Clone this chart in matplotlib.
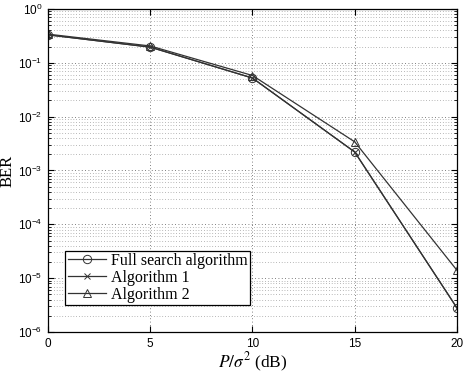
import matplotlib
matplotlib.use("Agg")
import matplotlib.pyplot as plt
from matplotlib.ticker import LogLocator, NullFormatter

plt.rcParams["mathtext.fontset"] = "stix"
plt.rcParams["font.family"] = ["Liberation Sans", "DejaVu Sans"]

# data
snr_db = [0, 5, 10, 15, 20]
ber_full = [0.33, 0.195, 0.052, 0.0022, 2.8e-6]
ber_alg1 = [0.33, 0.195, 0.052, 0.0022, 2.8e-6]
ber_alg2 = [0.34, 0.205, 0.058, 0.0034, 1.4e-5]

fig = plt.figure(figsize=(4.63, 3.71), dpi=100)
ax = fig.add_axes([0.1037, 0.105, 0.8833, 0.871])

ax.semilogy(snr_db, ber_full, color="#333333", lw=0.9, marker="o", ms=6,
            mfc="none", mec="#333333", mew=0.7, label="Full search algorithm")
ax.semilogy(snr_db, ber_alg1, color="#333333", lw=0.9, marker="x", ms=5,
            mec="#333333", mew=0.7, label="Algorithm 1")
ax.semilogy(snr_db, ber_alg2, color="#333333", lw=0.9, marker="^", ms=6,
            mfc="none", mec="#333333", mew=0.7, label="Algorithm 2")

ax.set_xlim(0, 20)
ax.set_ylim(1e-6, 1)
ax.set_xticks([0, 5, 10, 15, 20])
ax.yaxis.set_major_locator(LogLocator(base=10, numticks=10))
ax.yaxis.set_minor_locator(LogLocator(base=10, subs=range(2, 10), numticks=10))
ax.yaxis.set_minor_formatter(NullFormatter())

ax.grid(True, which="major", ls=(0, (1, 3)), color="#555555", lw=0.6)
ax.grid(True, which="minor", axis="y", ls=(0, (1, 3)), color="#777777", lw=0.5)

ax.tick_params(direction="in", which="both", top=True, right=True, labelsize=8.5, pad=4)
ax.tick_params(which="major", length=4)
ax.tick_params(which="minor", length=2)
for s in ax.spines.values():
    s.set_linewidth(0.9)

ax.set_xlabel(r"$P/\sigma^2$ (dB)", family="Liberation Serif", fontsize=12.5, labelpad=1)
ax.set_ylabel("BER", family="Liberation Serif", fontsize=12, labelpad=2)

leg = ax.legend(loc="lower left", bbox_to_anchor=(0.042, 0.084),
                prop={"family": "Liberation Serif", "size": 11.5},
                fancybox=False, framealpha=1, edgecolor="black",
                borderpad=0.15, labelspacing=0.05, handlelength=2.4,
                handletextpad=0.3, borderaxespad=0)
leg.get_frame().set_linewidth(0.9)

fig.savefig("out.png", dpi=100)
